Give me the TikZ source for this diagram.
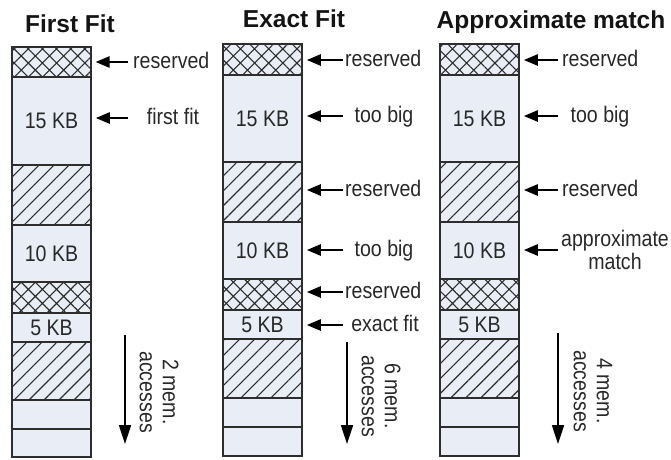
\documentclass[tikz,border=0pt]{standalone}
\usepackage{fontspec}
\setmainfont{Liberation Sans}
\newfontfamily\bodyfont[FakeStretch=0.87]{Liberation Sans}
\usetikzlibrary{arrows.meta,patterns.meta}

\definecolor{memfill}{RGB}{232,237,246}
\definecolor{edge}{RGB}{45,45,45}
\definecolor{txt}{RGB}{40,40,40}
\definecolor{ttl}{RGB}{20,20,20}

\tikzset{
  bodytext/.style={font=\bodyfont\fontsize{22.5}{23}\selectfont, text=txt},
  blockbase/.style={bodytext, draw=edge, line width=1.5pt, minimum width=79pt, inner sep=0pt},
  plainblk/.style={blockbase, fill=memfill},
  crossblk/.style={blockbase, preaction={fill=memfill},
    pattern={Hatch[angle=45,distance=10pt,line width=1.1pt]}, pattern color=edge},
  stripeblk/.style={blockbase, preaction={fill=memfill},
    pattern={Lines[angle=45,distance=10.6pt,line width=1.1pt]}, pattern color=edge},
  lbl/.style={bodytext, inner sep=0pt},
  heading/.style={font=\bfseries\fontsize{24.5}{28}\selectfont, text=ttl, inner sep=0pt, anchor=base},
  larr/.style={-{Triangle[length=14pt,width=11pt]}, line width=2.4pt, draw=black, shorten >=4pt},
  darr/.style={-{Triangle[length=19pt,width=12pt]}, line width=1.7pt, draw=black},
}

% one memory block: style, name, x centre, top y, bottom y, text
\newcommand\mblk[6]{\node[#1, minimum height={#5-#4}] (#2) at (#3,{(#4+#5)/2}) {#6};}

\begin{document}
\begin{tikzpicture}[x=1pt,y=-1pt]
\useasboundingbox (0,0) rectangle (671,459);

% ---------- headings ----------
\node[heading] (h1) at (70,32) {First Fit};
\node[heading] (h2) at (294,27) {Exact Fit};
\node[heading] (h3) at (551,28) {Approximate match};

% ---------- first fit column ----------
\mblk{crossblk}{a1}{51.5}{47}{77}{}
\mblk{plainblk}{a2}{51.5}{77}{165}{15 KB}
\mblk{stripeblk}{a3}{51.5}{165}{225}{}
\mblk{plainblk}{a4}{51.5}{225}{282}{10 KB}
\mblk{crossblk}{a5}{51.5}{282}{313}{}
\mblk{plainblk}{a6}{51.5}{313}{342}{5 KB}
\mblk{stripeblk}{a7}{51.5}{342}{400}{}
\mblk{plainblk}{a8}{51.5}{400}{429}{}
\mblk{plainblk}{a9}{51.5}{429}{457}{}

% ---------- exact fit column ----------
\mblk{crossblk}{b1}{262.5}{44}{75}{}
\mblk{plainblk}{b2}{262.5}{75}{162}{15 KB}
\mblk{stripeblk}{b3}{262.5}{162}{222}{}
\mblk{plainblk}{b4}{262.5}{222}{279}{10 KB}
\mblk{crossblk}{b5}{262.5}{279}{310}{}
\mblk{plainblk}{b6}{262.5}{310}{339}{5 KB}
\mblk{stripeblk}{b7}{262.5}{339}{398}{}
\mblk{plainblk}{b8}{262.5}{398}{427}{}
\mblk{plainblk}{b9}{262.5}{427}{456}{}

% ---------- approximate match column ----------
\mblk{crossblk}{c1}{479.5}{44}{75}{}
\mblk{plainblk}{c2}{479.5}{75}{162}{15 KB}
\mblk{stripeblk}{c3}{479.5}{162}{222}{}
\mblk{plainblk}{c4}{479.5}{222}{279}{10 KB}
\mblk{crossblk}{c5}{479.5}{279}{310}{}
\mblk{plainblk}{c6}{479.5}{310}{339}{5 KB}
\mblk{stripeblk}{c7}{479.5}{339}{398}{}
\mblk{plainblk}{c8}{479.5}{398}{427}{}
\mblk{plainblk}{c9}{479.5}{427}{456}{}

% ---------- labels (placed on their baselines) ----------
\node[lbl, anchor=base west] (la1) at (133,68.5) {reserved};
\node[lbl, anchor=base] (la2) at (173,124.5) {first fit};

\node[lbl, anchor=base west] (lb1) at (345,66.5) {reserved};
\node[lbl, anchor=base] (lb2) at (384,122.5) {too big};
\node[lbl, anchor=base west] (lb3) at (345,196.5) {reserved};
\node[lbl, anchor=base] (lb4) at (384,256.5) {too big};
\node[lbl, anchor=base west] (lb5) at (345,298.5) {reserved};
\node[lbl, anchor=base] (lb6) at (385,331.5) {exact fit};

\node[lbl, anchor=base west] (lc1) at (562,66.5) {reserved};
\node[lbl, anchor=base] (lc2) at (600,122.5) {too big};
\node[lbl, anchor=base west] (lc3) at (562,196.5) {reserved};
\node[lbl, align=center] (lc4) at (615,250) {approximate\\match};

% ---------- arrow tails ----------
\coordinate (ta1) at (128,62);
\coordinate (ta2) at (128,118);
\coordinate (tb1) at (343,60);
\coordinate (tb2) at (343,116);
\coordinate (tb3) at (343,190);
\coordinate (tb4) at (343,250);
\coordinate (tb5) at (343,292);
\coordinate (tb6) at (343,325);
\coordinate (tc1) at (558,60);
\coordinate (tc2) at (558,116);
\coordinate (tc3) at (558,190);
\coordinate (tc4) at (558,250);

% ---------- pointer arrows ----------
\draw[larr] (ta1) -- (ta1 -| a1.east);
\draw[larr] (ta2) -- (ta2 -| a2.east);
\draw[larr] (tb1) -- (tb1 -| b1.east);
\draw[larr] (tb2) -- (tb2 -| b2.east);
\draw[larr] (tb3) -- (tb3 -| b3.east);
\draw[larr] (tb4) -- (tb4 -| b4.east);
\draw[larr] (tb5) -- (tb5 -| b5.east);
\draw[larr] (tb6) -- (tb6 -| b6.east);
\draw[larr] (tc1) -- (tc1 -| c1.east);
\draw[larr] (tc2) -- (tc2 -| c2.east);
\draw[larr] (tc3) -- (tc3 -| c3.east);
\draw[larr] (tc4) -- (tc4 -| c4.east);

% ---------- search direction and access counts ----------
\coordinate (da0) at (125,335);
\coordinate (da1) at (125,444);
\coordinate (db0) at (347,342);
\coordinate (db1) at (347,444);
\coordinate (dc0) at (558,333);
\coordinate (dc1) at (558,444);
\draw[darr] (da0) -- (da1);
\draw[darr] (db0) -- (db1);
\draw[darr] (dc0) -- (dc1);

\node[lbl, rotate=-90, align=center] (ma) at (159,392) {2 mem.\\accesses};
\node[lbl, rotate=-90, align=center] (mb) at (381,396) {6 mem.\\accesses};
\node[lbl, rotate=-90, align=center] (mc) at (593,391) {4 mem.\\accesses};
\end{tikzpicture}
\end{document}
